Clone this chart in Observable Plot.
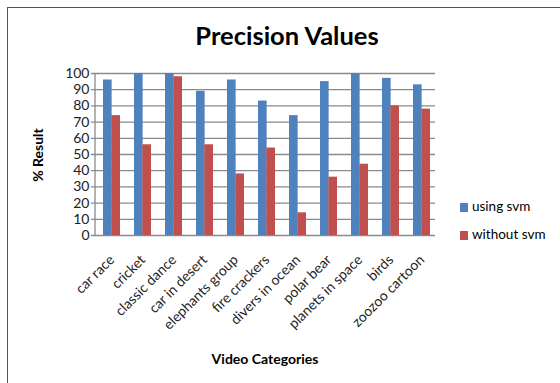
<!DOCTYPE html>
<html>
<head>
<meta charset="utf-8">
<script src="https://cdn.jsdelivr.net/npm/d3@7"></script>
<script src="https://cdn.jsdelivr.net/npm/@observablehq/plot@0.6"></script>
<style>
  html, body { margin: 0; padding: 0; background: #fff; overflow: hidden; }
  body { width: 560px; height: 383px; position: relative; font-family: Lato, "Open Sans", sans-serif; }
  #frame { position: absolute; left: 7px; top: 7px; width: 600px; height: 420px; border: 1px solid #555; box-sizing: border-box; }
  #chart { position: absolute; left: 0; top: 0; }
  .title { position: absolute; left: 0; width: 574px; top: 20px; text-align: center; font-weight: 700; font-size: 25.5px; color: #000; }
  .ylab { position: absolute; left: 37px; top: 155px; transform: translate(-50%, -50%) rotate(-90deg); font-weight: 700; font-size: 14px; color: #000; white-space: nowrap; }
  .xlab { position: absolute; left: 265px; top: 358px; transform: translate(-50%, -50%); font-weight: 700; font-size: 14px; color: #000; white-space: nowrap; }
  .legend { position: absolute; left: 460px; font-size: 13.5px; color: #000; white-space: nowrap; }
  .legend span.sw { display: inline-block; width: 8px; height: 9px; margin-right: 4px; vertical-align: -1px; }
</style>
</head>
<body>
<div id="frame"></div>
<div id="chart"></div>
<div class="title">Precision Values</div>
<div class="ylab">% Result</div>
<div class="xlab">Video Categories</div>
<div id="legend"></div>
<script>
const categories = ["car race", "cricket", "classic dance", "car in desert", "elephants group", "fire crackers", "divers in ocean", "polar bear", "planets in space", "birds", "zoozoo cartoon"];
const usingSvm = [96, 100, 100, 89, 96, 83, 74, 95, 100, 97, 93];
const withoutSvm = [74, 56, 98, 56, 38, 54, 14, 36, 44, 80, 78];
const seriesNames = ["using svm", "without svm"];
const seriesColors = ["#4f81bd", "#c0504d"];
const yTicks = [0, 10, 20, 30, 40, 50, 60, 70, 80, 90, 100];

const W = 560, H = 383;
const mL = 95, mR = 125, mT = 73, mB = 148;
const pInner = 0.46, pOuter = 0.213;
const step = (W - mL - mR) / (categories.length - pInner + 2 * pOuter);
const bw = step * (1 - pInner);

const data = [];
categories.forEach((c, i) => {
  data.push({category: c, series: seriesNames[0], value: usingSvm[i]});
  data.push({category: c, series: seriesNames[1], value: withoutSvm[i]});
});

const chart = Plot.plot({
  width: W, height: H,
  marginLeft: mL, marginRight: mR, marginTop: mT, marginBottom: mB,
  style: {fontFamily: "Lato, 'Open Sans', sans-serif", fontSize: "14px", color: "#222", background: "transparent"},
  x: {domain: categories, paddingInner: pInner, paddingOuter: pOuter, align: 0.63, tickRotate: -45, tickSize: 0, tickPadding: 22, label: null},
  y: {domain: [0, 100], ticks: yTicks, tickSize: 0, tickPadding: 6, label: null, tickFormat: d => String(d)},
  color: {domain: seriesNames, range: seriesColors},
  marks: [
    Plot.ruleY(yTicks, {stroke: "#8a8a8a", strokeWidth: 1.3, insetLeft: -4}),
    Plot.barY(data.filter(d => d.series === seriesNames[0]), {x: "category", y: "value", fill: "series", insetRight: bw / 2}),
    Plot.barY(data.filter(d => d.series === seriesNames[1]), {x: "category", y: "value", fill: "series", insetLeft: bw / 2})
  ]
});
document.getElementById("chart").appendChild(chart);

// axis line on the left
const svg = d3.select(chart);
svg.append("line").attr("x1", mL).attr("x2", mL).attr("y1", mT).attr("y2", H - mB).attr("stroke", "#8a8a8a").attr("stroke-width", 1.3);

const legend = document.getElementById("legend");
seriesNames.forEach((s, i) => {
  const d = document.createElement("div");
  d.className = "legend";
  d.style.top = (198 + i * 28) + "px";
  d.innerHTML = `<span class="sw" style="background:${seriesColors[i]}"></span>${s}`;
  legend.appendChild(d);
});
</script>
</body>
</html>
